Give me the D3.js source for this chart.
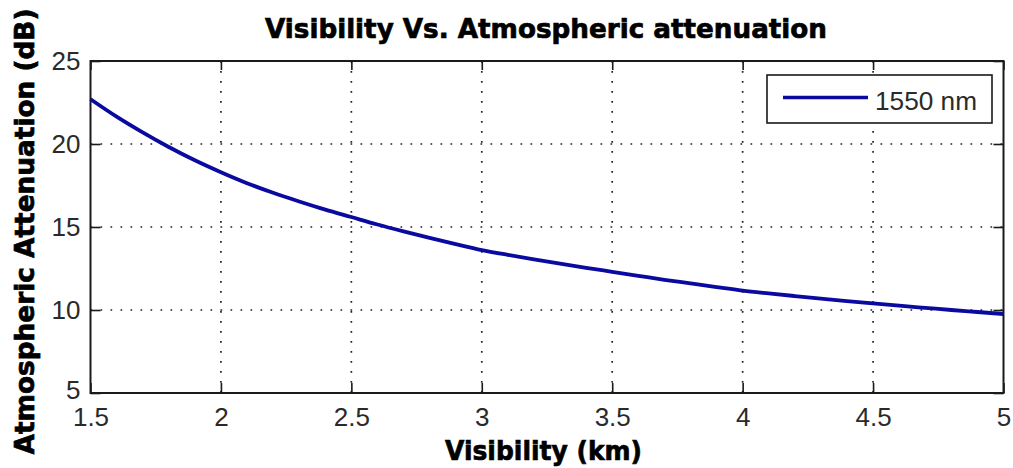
<!DOCTYPE html>
<html>
<head>
<meta charset="utf-8">
<script src="https://cdn.jsdelivr.net/npm/d3@7"></script>
<style>
  html, body { margin: 0; padding: 0; background: #fff; }
  svg { display: block; }
</style>
</head>
<body>
<svg id="chart" width="1013" height="468"></svg>
<script>
// ---- data ----
const visibility = [1.5, 1.6, 1.7, 1.8, 1.9, 2.0, 2.1, 2.2, 2.3, 2.4, 2.5, 2.6, 2.7, 2.8, 2.9,
  3.0, 3.1, 3.2, 3.3, 3.4, 3.5, 3.6, 3.7, 3.8, 3.9, 4.0, 4.1, 4.2, 4.3, 4.4, 4.5, 4.6, 4.7, 4.8, 4.9, 5.0];
const attenuation1550 = [22.7, 21.65, 20.7, 19.82, 19.02, 18.3, 17.64, 17.06, 16.54, 16.05, 15.6, 15.15,
  14.74, 14.35, 13.97, 13.61, 13.32, 13.05, 12.79, 12.54, 12.3, 12.06, 11.82, 11.6, 11.38, 11.17,
  11.0, 10.84, 10.685, 10.54, 10.4, 10.26, 10.13, 10.0, 9.88, 9.76];
const xTicks = [1.5, 2, 2.5, 3, 3.5, 4, 4.5, 5];
const yTicks = [5, 10, 15, 20, 25];
const seriesName = "1550 nm";
const titleText = "Visibility Vs. Atmospheric attenuation";
const xLabelText = "Visibility (km)";
const yLabelText = "Atmospheric Attenuation (dB)";

(function () {
// ---- layout ----
const svg = d3.select("#chart");
const pL = 90.5, pR = 1003.5, pT = 61, pB = 393;
const x = d3.scaleLinear().domain([1.5, 5]).range([pL, pR]);
const y = d3.scaleLinear().domain([5, 25]).range([pB, pT]);
const lineColor = "#0a0aa0";
const axisColor = "#1a1a1a";
const tickFont = "'Liberation Sans', Arial, sans-serif";
const boldFont = "'DejaVu Sans', 'Liberation Sans', sans-serif";

svg.append("rect").attr("x", pL).attr("y", pT)
  .attr("width", pR - pL).attr("height", pB - pT).attr("fill", "#fff");

// grid
const grid = svg.append("g").attr("stroke", "#222").attr("stroke-width", 1.7)
  .attr("stroke-dasharray", "1.7 8.3");
grid.selectAll("line.gx").data(xTicks.filter(d => d > 1.5 && d < 5)).join("line")
  .attr("class", "gx").attr("x1", d => x(d)).attr("x2", d => x(d))
  .attr("y1", pT).attr("y2", pB);
grid.selectAll("line.gy").data(yTicks.filter(d => d > 5 && d < 25)).join("line")
  .attr("class", "gy").attr("y1", d => y(d)).attr("y2", d => y(d))
  .attr("x1", pL).attr("x2", pR);

// axes
function styleAxis(g, showText) {
  g.select(".domain").remove();
  g.selectAll(".tick line").attr("stroke", axisColor).attr("stroke-width", 1.6);
  g.selectAll(".tick text").attr("fill", "#2a2a2a").attr("font-family", tickFont)
    .attr("font-size", 26);
  if (!showText) g.selectAll(".tick text").remove();
}
svg.append("g").attr("transform", `translate(0,${pB})`)
  .call(d3.axisBottom(x).tickValues(xTicks).tickSize(-10).tickSizeOuter(0).tickPadding(15).tickFormat(d3.format("")))
  .call(g => styleAxis(g, true));
svg.append("g").attr("transform", `translate(0,${pT})`)
  .call(d3.axisTop(x).tickValues(xTicks).tickSize(-9).tickSizeOuter(0))
  .call(g => styleAxis(g, false));
svg.append("g").attr("transform", `translate(${pL},0)`)
  .call(d3.axisLeft(y).tickValues(yTicks).tickSize(-10).tickSizeOuter(0).tickPadding(10).tickFormat(d3.format("")))
  .call(g => styleAxis(g, true))
  .call(g => g.selectAll(".tick text").attr("dy", d => d === 5 ? "0.2em" : "0.33em"));
svg.append("g").attr("transform", `translate(${pR},0)`)
  .call(d3.axisRight(y).tickValues(yTicks).tickSize(-10).tickSizeOuter(0))
  .call(g => styleAxis(g, false));

// box
svg.append("rect").attr("x", pL).attr("y", pT)
  .attr("width", pR - pL).attr("height", pB - pT)
  .attr("fill", "none").attr("stroke", axisColor).attr("stroke-width", 2);

// series line
const line = d3.line().x((d, i) => x(visibility[i])).y(d => y(d)).curve(d3.curveMonotoneX);
svg.append("path").datum(attenuation1550)
  .attr("d", line).attr("fill", "none").attr("stroke", lineColor)
  .attr("stroke-width", 3.8).attr("stroke-linejoin", "round");

// legend
const lg = svg.append("g");
lg.append("rect").attr("x", 767).attr("y", 75).attr("width", 225).attr("height", 48)
  .attr("fill", "#fff").attr("stroke", axisColor).attr("stroke-width", 1.6);
lg.append("line").attr("x1", 783).attr("x2", 868).attr("y1", 97.5).attr("y2", 97.5)
  .attr("stroke", lineColor).attr("stroke-width", 3.4);
lg.append("text").attr("x", 875).attr("y", 110).attr("font-family", tickFont)
  .attr("font-size", 26).attr("fill", "#2a2a2a").attr("textLength", 102)
  .attr("lengthAdjust", "spacingAndGlyphs").text(seriesName);

// title & labels (heavy weight)
function heavy(t) {
  return t.attr("font-family", boldFont).attr("font-weight", "bold")
    .attr("fill", "#000").attr("stroke", "#000").attr("stroke-width", 0.7)
    .attr("lengthAdjust", "spacingAndGlyphs").attr("text-anchor", "middle");
}
heavy(svg.append("text").attr("x", 546).attr("y", 38).attr("font-size", 27)
  .attr("textLength", 562)).text(titleText);
heavy(svg.append("text").attr("x", 543.5).attr("y", 460).attr("font-size", 27)
  .attr("textLength", 197)).text(xLabelText);
heavy(svg.append("text").attr("transform", "translate(34,231.5) rotate(-90)").attr("font-size", 26)
  .attr("textLength", 446)).text(yLabelText);
})();
</script>
</body>
</html>
